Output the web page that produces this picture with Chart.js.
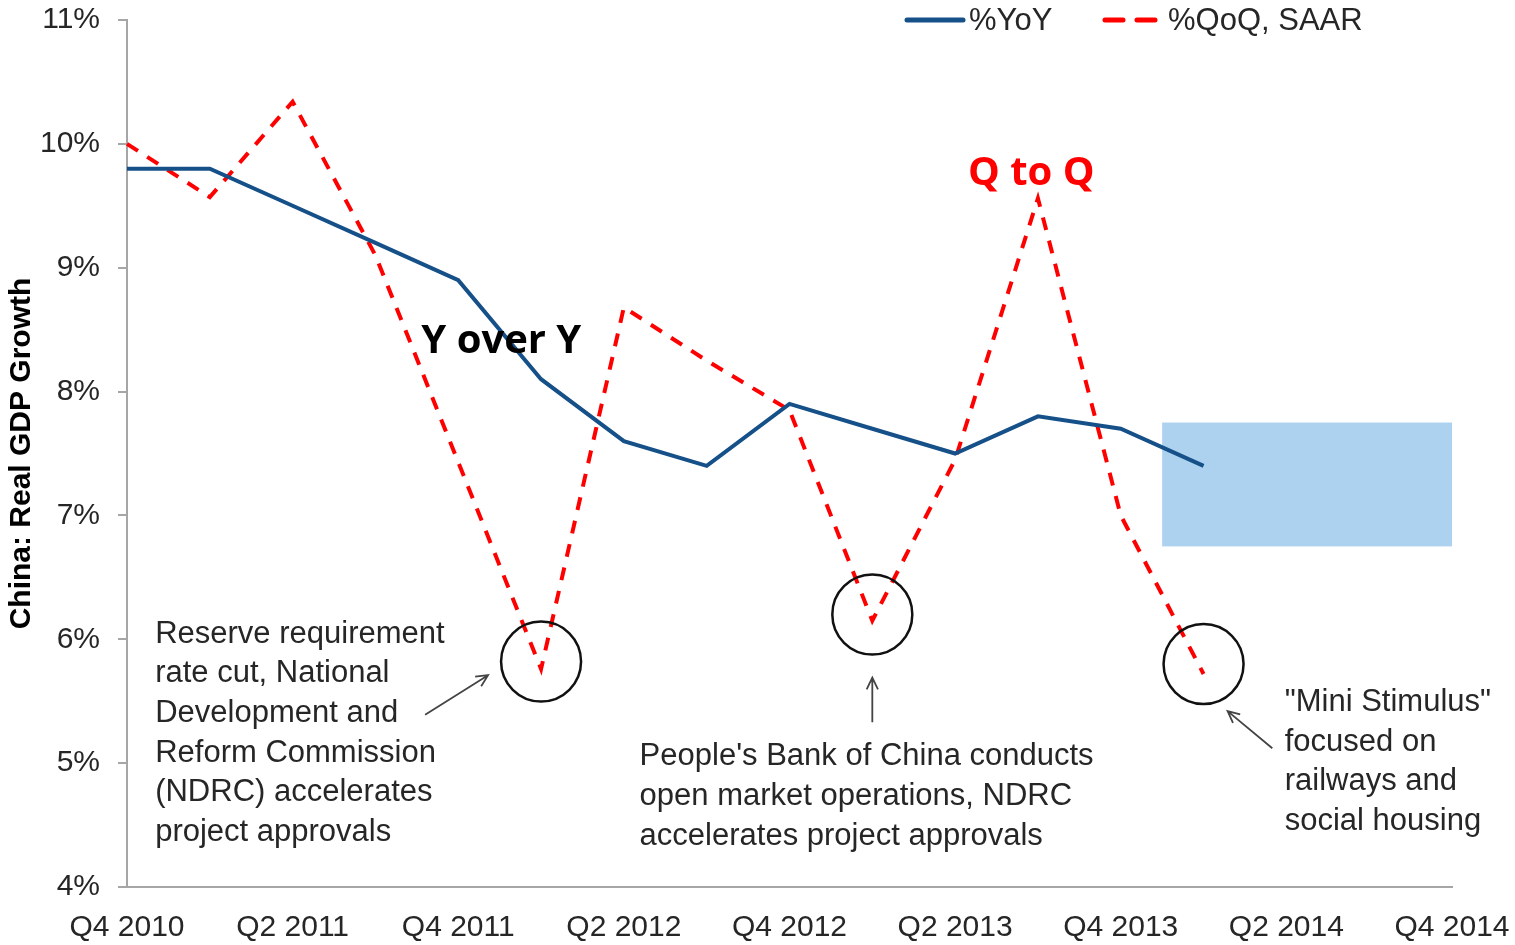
<!DOCTYPE html>
<html>
<head>
<meta charset="utf-8">
<script src="https://cdn.jsdelivr.net/npm/chart.js@4.4.1/dist/chart.umd.min.js"></script>
<style>
    html, body { margin: 0; padding: 0; background: #fff; }
    canvas { display: block; }
</style>
</head>
<body>
<canvas id="gdp-chart" width="1515" height="945"></canvas>
<script>
// Kvartaler på x-aksen
const quarters = [
    'Q4 2010', 'Q1 2011', 'Q2 2011', 'Q3 2011', 'Q4 2011', 'Q1 2012', 'Q2 2012', 'Q3 2012',
    'Q4 2012', 'Q1 2013', 'Q2 2013', 'Q3 2013', 'Q4 2013', 'Q1 2014', 'Q2 2014', 'Q3 2014', 'Q4 2014'
];

// Vekst, år over år (%)
const yoyGrowth = [9.8, 9.8, 9.5, 9.2, 8.9, 8.1, 7.6, 7.4, 7.9, 7.7, 7.5, 7.8, 7.7, 7.4];

// Vekst, kvartal over kvartal, SAAR (%)
const qoqGrowth = [10.0, 9.57, 10.34, 9.1, 7.43, 5.76, 8.68, 8.25, 7.85, 6.15, 7.45, 9.56, 7.0, 5.72];

// Y-akse (%)
const yMin = 4;
const yMax = 11;

// Prognoseboks (kvartalsindeks og %)
const forecastX = [12.5, 16];
const forecastY = [6.75, 7.75];

// Sirkler rundt bunnpunktene (kvartalsindeks, %)
const circleX = [5, 9, 13];
const circleY = [5.82, 6.2, 5.8];

// Tekstbokser
const notes = [
    { x: 0.34, y: 6.04, lines: ['Reserve requirement', 'rate cut, National', 'Development and', 'Reform Commission', '(NDRC) accelerates', 'project approvals'] },
    { x: 6.19, y: 5.05, lines: ["People's Bank of China conducts", 'open market operations, NDRC', 'accelerates project approvals'] },
    { x: 13.98, y: 5.49, lines: ['"Mini Stimulus"', 'focused on', 'railways and', 'social housing'] }
];

// Piler [fraX, fraY, tilX, tilY]
const arrows = [
    [3.60, 5.39, 4.36, 5.71],
    [9.0, 5.33, 9.0, 5.69],
    [13.83, 5.12, 13.29, 5.42]
];

const fontFamily = '"Liberation Sans", Arial, sans-serif';
const textFont = '31px ' + fontFamily;
const textColor = '#262626';

function drawArrow(ctx, x1, y1, x2, y2) {
    const angle = Math.atan2(y2 - y1, x2 - x1);
    const head = 13;
    ctx.beginPath();
    ctx.moveTo(x1, y1);
    ctx.lineTo(x2, y2);
    ctx.moveTo(x2 - head * Math.cos(angle - 0.45), y2 - head * Math.sin(angle - 0.45));
    ctx.lineTo(x2, y2);
    ctx.lineTo(x2 - head * Math.cos(angle + 0.45), y2 - head * Math.sin(angle + 0.45));
    ctx.stroke();
}

// Tegner boks, sirkler, piler, tekst og forklaring
const annotationPlugin = {
    id: 'annotations',
    beforeDatasetsDraw(chart) {
        const { ctx, scales: { x, y } } = chart;
        const left = x.getPixelForValue(forecastX[0]);
        const right = x.getPixelForValue(forecastX[1]);
        const top = y.getPixelForValue(forecastY[1]);
        const bottom = y.getPixelForValue(forecastY[0]);
        ctx.save();
        ctx.fillStyle = '#acd2ef';
        ctx.fillRect(left, top, right - left, bottom - top);
        ctx.restore();
    },
    afterDraw(chart) {
        const { ctx, scales: { x, y } } = chart;
        ctx.save();

        // Sirkler
        ctx.strokeStyle = '#111';
        ctx.lineWidth = 2.5;
        circleX.forEach((cx, i) => {
            ctx.beginPath();
            ctx.arc(x.getPixelForValue(cx), y.getPixelForValue(circleY[i]), 40, 0, Math.PI * 2);
            ctx.stroke();
        });

        // Piler
        ctx.strokeStyle = '#444';
        ctx.lineWidth = 1.8;
        arrows.forEach(a => {
            drawArrow(ctx, x.getPixelForValue(a[0]), y.getPixelForValue(a[1]),
                x.getPixelForValue(a[2]), y.getPixelForValue(a[3]));
        });

        // Tekst
        ctx.font = textFont;
        ctx.fillStyle = textColor;
        ctx.textAlign = 'left';
        ctx.textBaseline = 'middle';
        notes.forEach(n => {
            const px = x.getPixelForValue(n.x);
            const py = y.getPixelForValue(n.y);
            n.lines.forEach((line, i) => ctx.fillText(line, px, py + i * 39.6));
        });

        // Etiketter
        ctx.textAlign = 'center';
        ctx.font = 'bold 40px "Open Sans", sans-serif';
        ctx.fillStyle = '#000';
        ctx.fillText('Y over Y', x.getPixelForValue(4.52), y.getPixelForValue(8.4));
        ctx.fillStyle = '#ff0000';
        ctx.fillText('Q to Q', x.getPixelForValue(10.92), y.getPixelForValue(9.76));

        // Forklaring
        const ds = chart.data.datasets;
        const ly = 20;
        ctx.lineCap = 'round';
        ctx.lineWidth = 5;
        ctx.strokeStyle = ds[0].borderColor;
        ctx.beginPath();
        ctx.moveTo(907, ly);
        ctx.lineTo(963, ly);
        ctx.stroke();
        ctx.strokeStyle = ds[1].borderColor;
        ctx.beginPath();
        ctx.moveTo(1105, ly);
        ctx.lineTo(1123, ly);
        ctx.moveTo(1137, ly);
        ctx.lineTo(1155, ly);
        ctx.stroke();
        ctx.font = textFont;
        ctx.fillStyle = textColor;
        ctx.textAlign = 'left';
        ctx.fillText(ds[0].label, 969, ly + 1);
        ctx.fillText(ds[1].label, 1168, ly + 1);

        ctx.restore();
    }
};

const ctx = document.getElementById('gdp-chart').getContext('2d');
new Chart(ctx, {
    type: 'line',
    data: {
        labels: quarters,
        datasets: [
            {
                label: '%YoY',
                data: yoyGrowth,
                borderColor: '#165089',
                borderWidth: 4,
                pointRadius: 0,
                tension: 0,
                fill: false
            },
            {
                label: '%QoQ, SAAR',
                data: qoqGrowth,
                borderColor: '#ff0000',
                borderWidth: 4,
                borderDash: [13, 11],
                pointRadius: 0,
                tension: 0,
                fill: false
            }
        ]
    },
    options: {
        responsive: false,
        animation: false,
        layout: {
            autoPadding: false,
            padding: { top: 20, right: 63, left: 0, bottom: 0 }
        },
        scales: {
            x: {
                offset: false,
                grid: { display: false, drawTicks: false },
                border: { color: '#a6a6a6', width: 2 },
                ticks: {
                    autoSkip: false,
                    maxRotation: 0,
                    padding: 23,
                    color: textColor,
                    font: { family: fontFamily, size: 30 },
                    callback: function(value, index) {
                        return index % 2 === 0 ? this.getLabelForValue(value) : '';
                    }
                },
                afterFit: scale => {
                    scale.height = 58;
                    scale.paddingLeft = 0;
                    scale.paddingRight = 0;
                }
            },
            y: {
                min: yMin,
                max: yMax,
                grid: {
                    drawOnChartArea: false,
                    drawTicks: true,
                    tickLength: 9,
                    color: '#a6a6a6',
                    lineWidth: 2
                },
                border: { color: '#a6a6a6', width: 2 },
                ticks: {
                    stepSize: 1,
                    padding: 18,
                    color: textColor,
                    font: { family: fontFamily, size: 30 },
                    callback: value => value + '%'
                },
                title: {
                    display: true,
                    text: 'China: Real GDP Growth',
                    color: '#000',
                    padding: { top: 4, bottom: 0 },
                    font: { family: fontFamily, size: 30, weight: 'bold' }
                },
                afterFit: scale => {
                    scale.width = 127;
                    scale.paddingTop = 0;
                    scale.paddingBottom = 0;
                }
            }
        },
        plugins: {
            legend: { display: false },
            tooltip: { enabled: false }
        }
    },
    plugins: [annotationPlugin]
});
</script>
</body>
</html>
